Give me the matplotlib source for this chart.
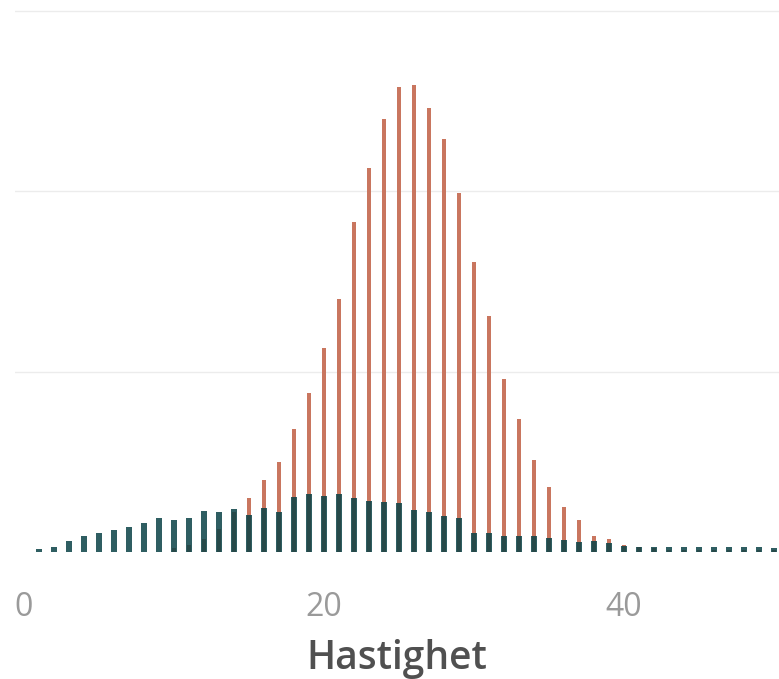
import matplotlib
matplotlib.use("Agg")
import matplotlib.pyplot as plt

# speed bins and the two series
speed = list(range(1, 51))
series_a = [0, 0, 0, 0, 0, 0, 0, 0, 0, 0.2,
            0.4, 0.7, 1.3, 2.2, 3.0, 4.0, 5.0, 6.8, 8.8, 11.3,
            14.0, 18.3, 21.3, 24.0, 25.8, 25.9, 24.6, 22.9, 19.9, 16.1,
            13.1, 9.6, 7.4, 5.1, 3.6, 2.5, 1.8, 0.9, 0.7, 0.4,
            0.3, 0.2, 0.1, 0.1, 0.1, 0.1, 0.1, 0.1, 0.1, 0.1]
series_b = [0.15, 0.3, 0.6, 0.9, 1.05, 1.2, 1.4, 1.6, 1.9, 1.8,
            1.9, 2.3, 2.2, 2.4, 2.05, 2.45, 2.2, 3.05, 3.2, 3.1,
            3.2, 3.0, 2.8, 2.75, 2.7, 2.35, 2.2, 2.0, 1.9, 1.05,
            1.05, 0.9, 0.9, 0.9, 0.8, 0.65, 0.55, 0.6, 0.5, 0.35,
            0.3, 0.28, 0.25, 0.25, 0.28, 0.25, 0.25, 0.25, 0.25, 0.2]
xticks = [0, 20, 40]

plt.rcParams["font.family"] = ["Open Sans", "DejaVu Sans"]

fig = plt.figure(figsize=(7.79, 6.79), dpi=100)
ax = fig.add_axes([15 / 779, 127 / 679, 764 / 779, 552 / 679])

ax.bar(speed, series_a, width=0.27, color="#c9765f", zorder=2)
ax.bar(speed, series_b, width=0.36, color="#0a4246", alpha=0.85, zorder=3)

ax.set_xlim(-0.6, 50.33)
ax.set_ylim(0, 30.6)
ax.set_yticks([10, 20, 30])
ax.set_yticklabels([])
ax.grid(axis="y", color="#ececec", linewidth=1)
ax.set_axisbelow(True)
ax.tick_params(axis="y", length=0)

ax.set_xticks(xticks)
ax.set_xticklabels([str(t) for t in xticks])
ax.tick_params(axis="x", length=0, pad=28, labelsize=23, labelcolor="#9a9a9a")
ax.set_xlabel("Hastighet", fontsize=28, color="#505050", fontweight="semibold",
              labelpad=11)

for s in ax.spines.values():
    s.set_visible(False)

fig.savefig("out.png", dpi=100)
